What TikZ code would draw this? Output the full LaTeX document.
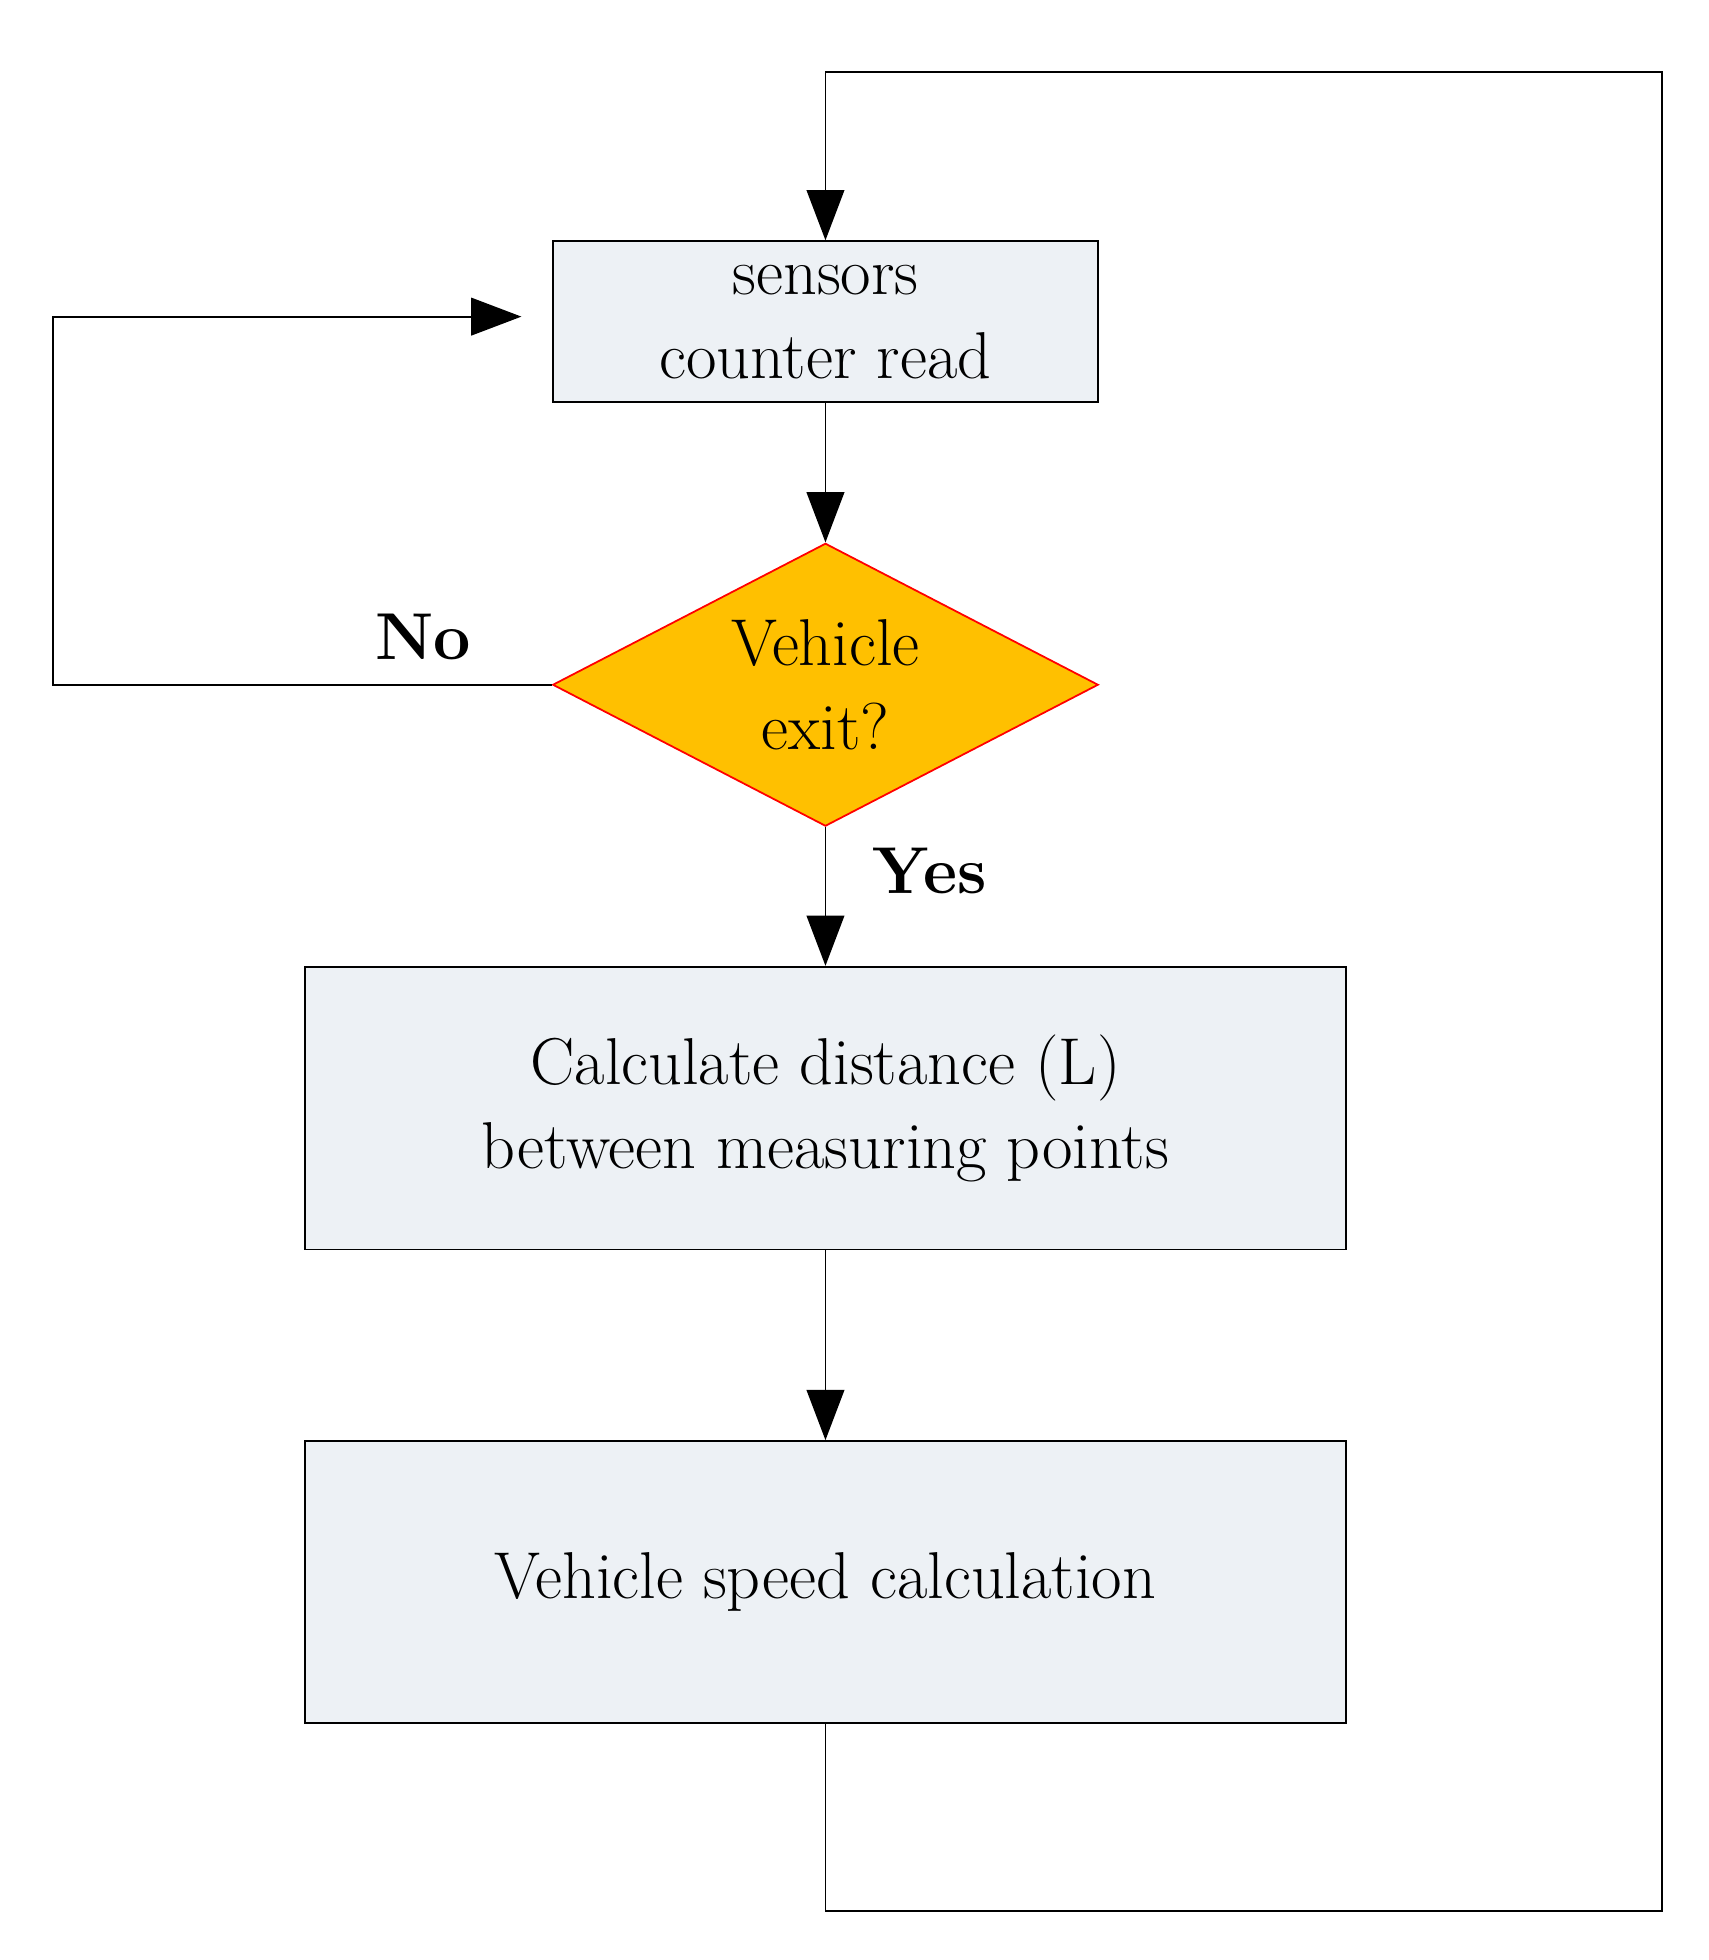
\documentclass[tikz,border=0pt]{standalone}
\usetikzlibrary{shapes.geometric,arrows.meta}
\definecolor{boxfill}{HTML}{EDF1F5}
\definecolor{decfill}{HTML}{FFC000}
\begin{document}
\begin{tikzpicture}[x=0.01cm,y=-0.01cm,
    box/.style={draw,fill=boxfill,align=center,inner sep=0pt,font=\fontsize{15}{19}\selectfont},
    decision/.style={draw=red,fill=decfill,diamond,aspect=1.93,inner sep=0pt,
      minimum width=4.34cm,minimum height=2.25cm,align=center,font=\fontsize{15}{19}\selectfont},
    flow/.style={-{Triangle[length=0.4cm,width=0.3cm]}},
    lbl/.style={font=\fontsize{15}{19}\selectfont\bfseries}]
    \useasboundingbox (0,0) rectangle (1360,1560);
    \node[box,minimum width=4.34cm,minimum height=1.28cm] (read) at (657,256) {sensors\\counter read};
    \node[decision] (exit) at (657,545) {Vehicle\\exit?};
    \node[box,minimum width=8.28cm,minimum height=2.25cm] (dist) at (657,882) {Calculate distance (L)\\between measuring points};
    \node[box,minimum width=8.28cm,minimum height=2.24cm] (speed) at (657,1259) {Vehicle speed calculation};
    \coordinate (noend) at (415,252);
    \draw[flow] (read) -- (exit);
    \draw[flow] (exit) -- (dist);
    \draw[flow] (dist) -- (speed);
    \draw[flow] (exit.west) -- (42,545) -- (42,252) -- (noend);
    \draw[flow] (speed.south) -- (657,1521) -- (1323,1521) -- (1323,57) -- (657,57) -- (read.north);
    \node[lbl] (no) at (337,507) {No};
    \node[lbl] (yes) at (740,693) {Yes};
\end{tikzpicture}
\end{document}
